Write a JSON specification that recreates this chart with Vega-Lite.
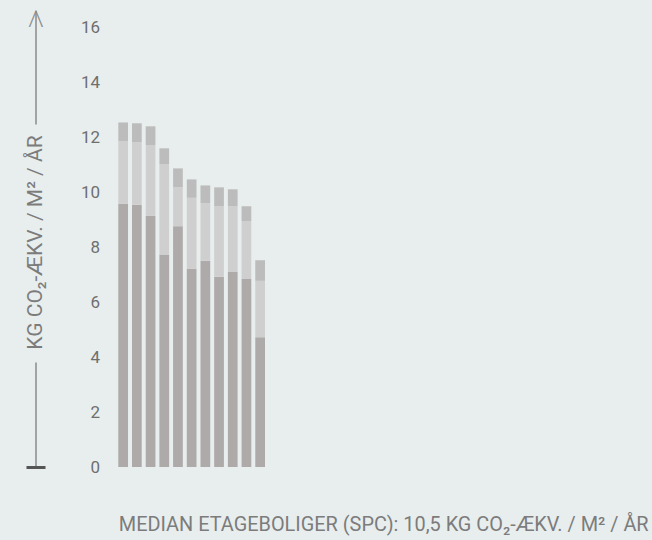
{
  "$schema": "https://vega.github.io/schema/vega-lite/v6.json",
  "width": 146.7,
  "height": 457,
  "autosize": {"type": "none"},
  "padding": {"left": 118.3, "top": 10, "right": 387, "bottom": 73},
  "background": "#e8eeee",
  "config": {"view": {"stroke": null}, "font": "Roboto"},
  "data": {
    "values": [
      {"bygning": 1, "del": "Del 1", "vaerdi": 9.57},
      {"bygning": 1, "del": "Del 2", "vaerdi": 2.28},
      {"bygning": 1, "del": "Del 3", "vaerdi": 0.68},
      {"bygning": 2, "del": "Del 1", "vaerdi": 9.54},
      {"bygning": 2, "del": "Del 2", "vaerdi": 2.27},
      {"bygning": 2, "del": "Del 3", "vaerdi": 0.69},
      {"bygning": 3, "del": "Del 1", "vaerdi": 9.13},
      {"bygning": 3, "del": "Del 2", "vaerdi": 2.58},
      {"bygning": 3, "del": "Del 3", "vaerdi": 0.68},
      {"bygning": 4, "del": "Del 1", "vaerdi": 7.73},
      {"bygning": 4, "del": "Del 2", "vaerdi": 3.29},
      {"bygning": 4, "del": "Del 3", "vaerdi": 0.57},
      {"bygning": 5, "del": "Del 1", "vaerdi": 8.76},
      {"bygning": 5, "del": "Del 2", "vaerdi": 1.42},
      {"bygning": 5, "del": "Del 3", "vaerdi": 0.68},
      {"bygning": 6, "del": "Del 1", "vaerdi": 7.21},
      {"bygning": 6, "del": "Del 2", "vaerdi": 2.58},
      {"bygning": 6, "del": "Del 3", "vaerdi": 0.67},
      {"bygning": 7, "del": "Del 1", "vaerdi": 7.50},
      {"bygning": 7, "del": "Del 2", "vaerdi": 2.10},
      {"bygning": 7, "del": "Del 3", "vaerdi": 0.64},
      {"bygning": 8, "del": "Del 1", "vaerdi": 6.92},
      {"bygning": 8, "del": "Del 2", "vaerdi": 2.56},
      {"bygning": 8, "del": "Del 3", "vaerdi": 0.69},
      {"bygning": 9, "del": "Del 1", "vaerdi": 7.09},
      {"bygning": 9, "del": "Del 2", "vaerdi": 2.39},
      {"bygning": 9, "del": "Del 3", "vaerdi": 0.62},
      {"bygning": 10, "del": "Del 1", "vaerdi": 6.84},
      {"bygning": 10, "del": "Del 2", "vaerdi": 2.11},
      {"bygning": 10, "del": "Del 3", "vaerdi": 0.53},
      {"bygning": 11, "del": "Del 1", "vaerdi": 4.72},
      {"bygning": 11, "del": "Del 2", "vaerdi": 2.05},
      {"bygning": 11, "del": "Del 3", "vaerdi": 0.75}
    ]
  },
  "resolve": {"axis": {"y": "independent"}},
  "layer": [
    {
      "mark": {"type": "bar"},
      "encoding": {
        "x": {
          "field": "bygning",
          "type": "ordinal",
          "scale": {"paddingInner": 0.29, "paddingOuter": 0},
          "axis": {
            "labels": false,
            "ticks": false,
            "domain": false,
            "title": "MEDIAN ETAGEBOLIGER (SPC): 10,5 KG CO₂-ÆKV. / M² / ÅR",
            "titleAnchor": "start",
            "titleAlign": "left",
            "titleBaseline": "alphabetic",
            "titleX": 0,
            "titleY": 63,
            "titleFont": "Roboto",
            "titleFontSize": 19.9,
            "titleFontWeight": 400,
            "titleColor": "#7c7c7c"
          }
        },
        "y": {
          "field": "vaerdi",
          "type": "quantitative",
          "stack": "zero",
          "scale": {"domain": [0, 16.62], "nice": false, "zero": true},
          "axis": {
            "orient": "left",
            "offset": 82.8,
            "values": [0, 2, 4, 6, 8, 10, 12, 14, 16],
            "grid": false,
            "ticks": false,
            "domain": true,
            "domainColor": "#8a8a8a",
            "domainWidth": 1.5,
            "domainDash": [105, 238, 300],
            "labelPadding": -64,
            "labelAlign": "right",
            "labelBaseline": "middle",
            "labelFont": "Roboto",
            "labelFontSize": 17,
            "labelColor": "#6e6e6e",
            "title": "KG CO₂-ÆKV. / M² / ÅR",
            "titleX": 0,
            "titleY": 232,
            "titleAngle": 270,
            "titleAlign": "center",
            "titleBaseline": "middle",
            "titleFont": "Roboto",
            "titleFontSize": 21,
            "titleFontWeight": 400,
            "titleColor": "#7c7c7c"
          }
        },
        "color": {
          "field": "del",
          "type": "nominal",
          "scale": {"domain": ["Del 1", "Del 2", "Del 3"], "range": ["#adaaa9", "#d0cfcf", "#bdbcbc"]},
          "legend": null
        },
        "order": {"field": "del", "type": "ordinal"}
      }
    },
    {
      "mark": {"type": "rule", "opacity": 0},
      "encoding": {
        "y": {
          "field": "vaerdi",
          "type": "quantitative",
          "scale": {"domain": [0, 16.62], "nice": false, "zero": true},
          "axis": {
            "orient": "left",
            "offset": 73.3,
            "values": [0, 16.62],
            "grid": false,
            "domain": false,
            "ticks": true,
            "tickSize": 19,
            "tickWidth": 3,
            "tickColor": {"condition": {"test": "datum.value === 0", "value": "#555555"}, "value": "transparent"},
            "labelExpr": "datum.value > 16 ? '^' : ''",
            "labelPadding": -9.5,
            "labelAlign": "center",
            "labelBaseline": "alphabetic",
            "labelOffset": 32,
            "labelFont": "Roboto",
            "labelFontWeight": 100,
            "labelFontSize": 45,
            "labelColor": "#8a8a8a",
            "labelOverlap": false,
            "labelFlush": false,
            "title": null
          }
        }
      }
    }
  ]
}
